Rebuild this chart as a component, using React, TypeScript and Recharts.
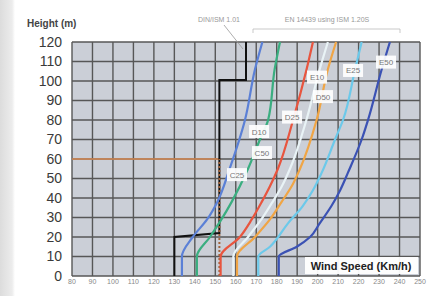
import React from "react";
import { CartesianGrid, Line, LineChart, ReferenceDot, XAxis, YAxis } from "recharts";

const speedTicks = [80, 90, 100, 110, 120, 130, 140, 150, 160, 170, 180, 190, 200, 210, 220, 230, 240, 250];
const heightTicks = [0, 10, 20, 30, 40, 50, 60, 70, 80, 90, 100, 110, 120];

// [wind speed km/h, height m]
const dinLimit = [[130, 0], [130, 20], [152, 22], [152, 100.5], [165, 100.5], [165, 120]];
const refHeight60 = [[80, 60], [152, 60]];
const refDrop = [[152, 0], [152, 60]];

const curveBlue = [[133.7, 0], [133.7, 10], [139, 20], [146, 29], [151, 38], [157, 55], [164.5, 80], [169.4, 106], [173, 120]];
const curveGreen = [[141, 0], [141, 10], [147.4, 20], [153, 29], [158, 38], [166, 55], [171.8, 70], [175.8, 80], [179, 106], [181.6, 120]];
const curveRed = [[152.6, 0], [152.6, 10], [162, 20], [167.8, 29], [172.7, 38], [176.7, 46], [180.6, 55], [188, 80], [194.6, 106], [197.7, 120]];
const curvePale = [[158.8, 0], [158.8, 10], [166, 20], [172.5, 29], [178, 38], [182.5, 46], [186.5, 55], [194.5, 80], [201, 106], [205, 120]];
const curveOrange = [[160.6, 0], [160.6, 10], [169.4, 20], [176.7, 29], [182.4, 38], [187.3, 46], [191.4, 55], [199.5, 80], [205, 106], [209, 120]];
const curveSky = [[171, 0], [171, 10], [176.7, 15], [185.5, 27], [192.8, 36], [197.7, 44], [202, 53], [208.5, 70], [212.4, 80], [218.3, 106], [221.5, 120]];
const curveNavy = [[181, 0], [181, 10], [189.8, 15], [196.3, 20], [201, 27], [206.8, 36], [211, 44], [214.8, 53], [221.5, 70], [224.6, 80], [231.3, 106], [235.3, 120]];

const tagNames = ["C25", "C50", "D10", "D25", "D50", "E10", "E25", "E50"];
const tagSpeeds = [160.6, 172.8, 171.4, 187.5, 202.6, 199.7, 217.3, 233.4];
const tagHeights = [52, 63.3, 74.1, 81.5, 92, 102, 105.4, 109.7];

const toPts = (arr: number[][]) => arr.map(([x, y]) => ({ x, y }));

const curves = [
  { key: "blue", pts: curveBlue, color: "#5b80d6" },
  { key: "green", pts: curveGreen, color: "#3aae80" },
  { key: "red", pts: curveRed, color: "#e8553f" },
  { key: "pale", pts: curvePale, color: "#e9f3f6" },
  { key: "orange", pts: curveOrange, color: "#f0a545" },
  { key: "sky", pts: curveSky, color: "#6cc9ea" },
  { key: "navy", pts: curveNavy, color: "#3b52b4" },
];

const font = "'Liberation Sans', Arial, sans-serif";

const Tag = ({ cx, cy, text }: any) => (
  <g>
    <rect x={cx - 10} y={cy - 6.5} width={20} height={13} fill="#ffffff" fillOpacity={0.92} />
    <text x={cx} y={cy + 3} textAnchor="middle" fontSize={8} fill="#777" fontFamily={font}>
      {text}
    </text>
  </g>
);

export default function App() {
  return (
    <div style={{ position: "absolute", left: 0, top: 0, width: 439, height: 296, background: "#fff" }}>
      <LineChart width={439} height={296} margin={{ top: 42, right: 19, bottom: 4, left: 0 }}>
        <CartesianGrid fill="#cbcfd7" stroke="#575757" strokeWidth={1.4} strokeDasharray="" />
        <XAxis
          dataKey="x"
          type="number"
          domain={[80, 250]}
          ticks={speedTicks}
          interval={0}
          height={16}
          axisLine={false}
          tickLine={false}
          tickSize={2}
          tickMargin={1}
          tick={{ fontSize: 7, fill: "#888", fontFamily: font }}
        />
        <YAxis
          dataKey="y"
          type="number"
          domain={[0, 120]}
          ticks={heightTicks}
          interval={0}
          width={72}
          axisLine={false}
          tickLine={false}
          tickSize={8}
          tickMargin={2}
          tick={{ fontSize: 14, fill: "#3a3a3a", fontFamily: font }}
        />
        <Line data={toPts(refHeight60)} dataKey="y" stroke="#d98a52" strokeWidth={1.5} dot={false} isAnimationActive={false} />
        <Line data={toPts(dinLimit)} dataKey="y" type="linear" stroke="#111" strokeWidth={2} dot={false} isAnimationActive={false} />
        <Line data={toPts(refDrop)} dataKey="y" stroke="#a0623a" strokeWidth={2} strokeDasharray="2 2" dot={false} isAnimationActive={false} />
        {curves.map((c) => (
          <Line
            key={c.key}
            data={toPts(c.pts)}
            dataKey="y"
            type="monotoneY"
            stroke={c.color}
            strokeWidth={2.2}
            dot={false}
            isAnimationActive={false}
          />
        ))}
        {tagNames.map((n, i) => (
          <ReferenceDot
            key={n}
            x={tagSpeeds[i]}
            y={tagHeights[i]}
            r={0}
            shape={(p: any) => <Tag cx={p.cx} cy={p.cy} text={n} />}
          />
        ))}
      </LineChart>
      <svg width={439} height={296} style={{ position: "absolute", left: 0, top: 0, pointerEvents: "none" }}>
        <defs>
          <linearGradient id="shade" x1="0" x2="1" y1="0" y2="0">
            <stop offset="0" stopColor="#dcdcdc" />
            <stop offset="0.8" stopColor="#ececec" />
            <stop offset="1" stopColor="#ffffff" />
          </linearGradient>
        </defs>
        <rect x={0} y={0} width={15} height={296} fill="url(#shade)" />
        <text x={27} y={27} fontSize={10} fontWeight="bold" fill="#444" fontFamily={font}>
          Height (m)
        </text>
        <text x={219} y={22} textAnchor="middle" fontSize={7} fill="#999" fontFamily={font}>
          DIN/ISM 1.01
        </text>
        <line x1={224} y1={25} x2={243} y2={49} stroke="#999" strokeWidth={0.8} />
        <text x={327} y={22} textAnchor="middle" fontSize={7} fill="#999" fontFamily={font}>
          EN 14439 using ISM 1.20S
        </text>
        <path d="M253 33 V29 H400 V33" fill="none" stroke="#bbb" strokeWidth={0.8} />
        <rect x={305} y={257} width={113} height={17} fill="#ffffff" fillOpacity={0.95} />
        <text x={361} y={270} textAnchor="middle" fontSize={11} fontWeight="bold" fill="#222" fontFamily={font}>
          Wind Speed (Km/h)
        </text>
      </svg>
    </div>
  );
}
